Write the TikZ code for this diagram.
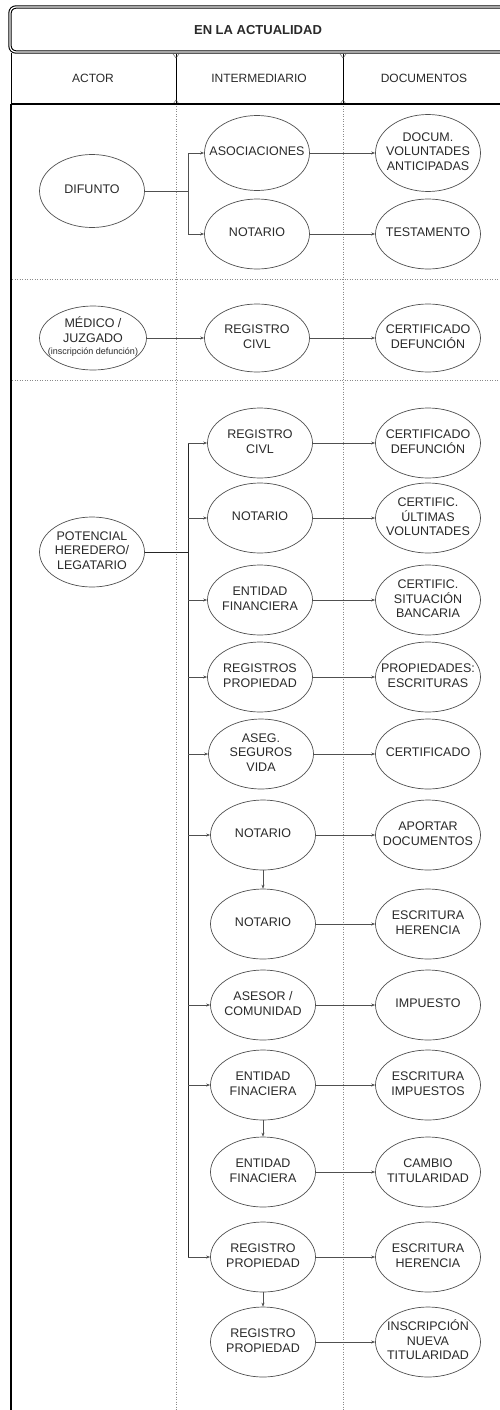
\documentclass[tikz,border=0pt]{standalone}
\usepackage{fontspec}
\setmainfont{Liberation Sans}
\usetikzlibrary{shapes.geometric,arrows.meta}
\definecolor{txt}{HTML}{2A2A2A}
\definecolor{ln}{HTML}{505050}
\definecolor{dotc}{HTML}{8A8A8A}
\newcommand\elt[1]{\makebox[0pt]{\begin{tabular}{@{}c@{}}#1\end{tabular}}}
\begin{document}
\begin{tikzpicture}[x=1pt,y=-1pt,
  ell/.style={ellipse, draw=ln, line width=0.7pt, minimum width=105pt, minimum height=70pt,
    inner sep=0pt, font=\fontsize{12.5}{14.5}\selectfont, text=txt},
  arr/.style={draw=ln, line width=0.6pt, -{Stealth[length=4pt,width=3pt]}},
  conn/.style={draw=ln, line width=0.6pt},
  trunk/.style={draw=black!85, line width=0.9pt},
  sep/.style={draw=dotc, line width=0.5pt, dotted},
  hdr/.style={font=\fontsize{12}{14}\selectfont, text=txt}]
\useasboundingbox (0,0) rectangle (499,1410);
\fill[white] (0,0) rectangle (499,1410);

% separators
\draw[sep] (176,104) -- (176,1410);
\draw[sep] (343,104) -- (343,1410);
\draw[sep] (12,279) -- (499,279);
\draw[sep] (12,380) -- (499,380);

% title and header
\draw[black, line width=1.1pt, double, double distance=1.2pt, rounded corners=6pt] (10,7) rectangle (510,52);
\node[font=\bfseries\fontsize{13}{15}\selectfont, text=txt] (title) at (258,30) {EN LA ACTUALIDAD};
\draw[black, line width=0.5pt] (11,53) -- (11,104);
\foreach \cx in {176,343}{
  \draw[black, line width=0.6pt] (\cx,54) -- (\cx,104);
  \draw[black!70, line width=0.4pt] (\cx-3,54) -- (\cx,58) -- (\cx+3,54);
  \draw[black!70, line width=0.4pt] (\cx-3,104) -- (\cx,100) -- (\cx+3,104);
}
\draw[black, line width=1.8pt] (11,104) -- (510,104);
\draw[black, line width=2.6pt] (11,104) -- (11,1410);
\node[hdr] (hactor) at (93,78) {ACTOR};
\node[hdr] (hinter) at (259,78) {INTERMEDIARIO};
\node[hdr] (hdocs) at (424,78) {DOCUMENTOS};

% block 1
\node[ell, minimum height=73pt] (dif) at (92,191) {\elt{DIFUNTO}};
\node[ell, minimum height=75pt] (aso) at (257,153) {\elt{ASOCIACIONES}};
\node[ell] (not1) at (257,234) {\elt{NOTARIO}};
\node[ell, minimum height=77pt] (doc1) at (428,153) {\elt{DOCUM.\\VOLUNTADES\\ANTICIPADAS}};
\node[ell] (tes) at (428,234) {\elt{TESTAMENTO}};
\coordinate (f1) at (188,191);
\draw[conn] (dif.east) -- (f1);
\draw[arr] (f1) |- (aso.west);
\draw[arr] (f1) |- (not1.west);
\draw[arr] (aso.east) -- (doc1.west);
\draw[arr] (not1.east) -- (tes.west);

% block 2
\node[ell, minimum width=107pt, minimum height=64pt] (med) at (93,338)
  {\makebox[0pt]{\begin{tabular}{@{}c@{}}MÉDICO /\\JUZGADO\\[-2pt]{\fontsize{9}{11}\selectfont (inscripción defunción)}\end{tabular}}};
\node[ell, minimum height=68pt] (rc0) at (257,338) {\elt{REGISTRO\\CIVL}};
\node[ell, minimum height=68pt] (cd0) at (428,338) {\elt{CERTIFICADO\\DEFUNCIÓN}};
\draw[arr] (med.east) -- (rc0.west);
\draw[arr] (rc0.east) -- (cd0.west);

% block 3
\node[ell] (pot) at (92,552) {\elt{POTENCIAL\\HEREDERO/\\LEGATARIO}};
\node[ell] (i1) at (260,443) {\elt{REGISTRO\\CIVL}};
\node[ell] (i2) at (260,518) {\elt{NOTARIO}};
\node[ell] (i3) at (260,600) {\elt{ENTIDAD\\FINANCIERA}};
\node[ell] (i4) at (260,677) {\elt{REGISTROS\\PROPIEDAD}};
\node[ell] (i5) at (261,754) {\elt{ASEG.\\SEGUROS\\VIDA}};
\node[ell] (i6) at (263,835) {\elt{NOTARIO}};
\node[ell] (i7) at (263,924) {\elt{NOTARIO}};
\node[ell] (i8) at (263,1005) {\elt{ASESOR /\\COMUNIDAD}};
\node[ell] (i9) at (263,1085) {\elt{ENTIDAD\\FINACIERA}};
\node[ell] (i10) at (263,1172) {\elt{ENTIDAD\\FINACIERA}};
\node[ell] (i11) at (263,1257) {\elt{REGISTRO\\PROPIEDAD}};
\node[ell] (i12) at (263,1342) {\elt{REGISTRO\\PROPIEDAD}};

\node[ell] (d1) at (428,443) {\elt{CERTIFICADO\\DEFUNCIÓN}};
\node[ell] (d2) at (428,518) {\elt{CERTIFIC.\\ÚLTIMAS\\VOLUNTADES}};
\node[ell] (d3) at (428,600) {\elt{CERTIFIC.\\SITUACIÓN\\BANCARIA}};
\node[ell] (d4) at (428,677) {\elt{PROPIEDADES:\\ESCRITURAS}};
\node[ell] (d5) at (428,754) {\elt{CERTIFICADO}};
\node[ell] (d6) at (428,835) {\elt{APORTAR\\DOCUMENTOS}};
\node[ell] (d7) at (428,924) {\elt{ESCRITURA\\HERENCIA}};
\node[ell] (d8) at (428,1005) {\elt{IMPUESTO}};
\node[ell] (d9) at (428,1085) {\elt{ESCRITURA\\IMPUESTOS}};
\node[ell] (d10) at (428,1172) {\elt{CAMBIO\\TITULARIDAD}};
\node[ell] (d11) at (428,1257) {\elt{ESCRITURA\\HERENCIA}};
\node[ell] (d12) at (428,1342) {\elt{INSCRIPCIÓN\\NUEVA\\TITULARIDAD}};

\coordinate (t0) at (188,552);
\coordinate (ttop) at (188,443);
\coordinate (tbot) at (188,1257);
\draw[trunk] (pot.east) -- (t0);
\draw[trunk] (ttop) -- (tbot);
\foreach \k in {1,2,3,4,5,6,8,9,11}{
  \draw[arr] (t0 |- i\k.west) -- (i\k.west);
}
\foreach \k in {1,...,12}{
  \draw[arr] (i\k.east) -- (d\k.west);
}
\draw[arr] (i6.south) -- (i7.north);
\draw[arr] (i9.south) -- (i10.north);
\draw[arr] (i11.south) -- (i12.north);
\end{tikzpicture}
\end{document}
